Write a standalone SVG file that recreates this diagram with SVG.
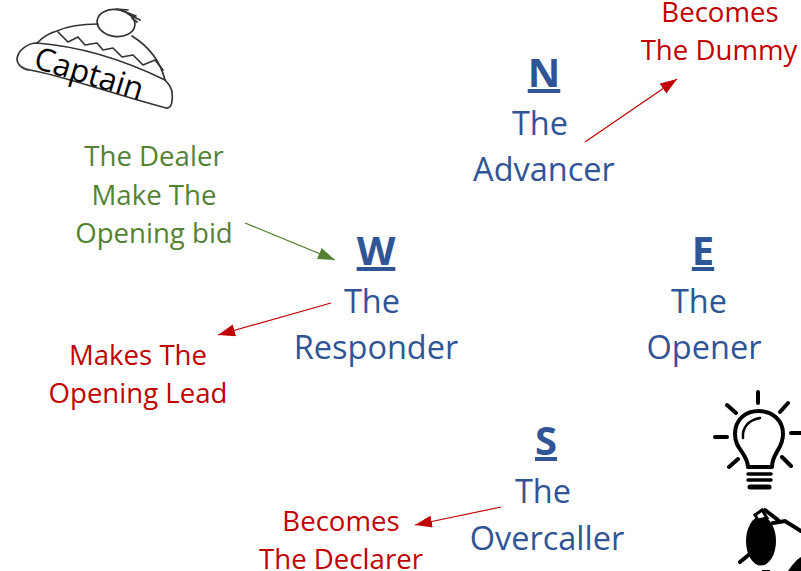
<svg xmlns="http://www.w3.org/2000/svg" width="801" height="571" viewBox="0 0 801 571">
<style>
text{font-family:"Open Sans","Noto Sans",sans-serif;text-anchor:middle}
.b{fill:#2f5597;font-size:32.5px}
.h{fill:#2f5597;font-size:40px;font-weight:700;text-decoration:underline}
.r{fill:#c00000;font-size:27.6px}
.g{fill:#548235;font-size:27.6px}
.hat{fill:none;stroke:#333;stroke-width:1.7;stroke-linejoin:round;stroke-linecap:round}
.bulb{fill:none;stroke:#000;stroke-width:4;stroke-linecap:round;stroke-linejoin:round}
</style>
<defs>
<marker id="ar" markerWidth="18" markerHeight="14" refX="17" refY="6" orient="auto" markerUnits="userSpaceOnUse"><path d="M0 0L17 6L0 12Z" fill="#c00000"/></marker>
<marker id="ag" markerWidth="18" markerHeight="14" refX="17" refY="6" orient="auto" markerUnits="userSpaceOnUse"><path d="M0 0L17 6L0 12Z" fill="#548235"/></marker>
</defs>
<g id="connectors">
<line x1="585" y1="142" x2="677" y2="79" stroke="#c00000" stroke-width="1.2" marker-end="url(#ar)"/>
<line x1="245" y1="223" x2="335" y2="260" stroke="#548235" stroke-width="1.2" marker-end="url(#ag)"/>
<line x1="331" y1="303" x2="218" y2="335" stroke="#c00000" stroke-width="1.2" marker-end="url(#ar)"/>
<line x1="501" y1="507" x2="415" y2="525" stroke="#c00000" stroke-width="1.2" marker-end="url(#ar)"/>
</g>
<g id="node-n"><text class="h" x="544" y="87">N</text><text class="b" x="540" y="135">The</text><text class="b" x="544" y="181">Advancer</text></g>
<g id="node-w"><text class="h" x="376" y="265">W</text><text class="b" x="372" y="313">The</text><text class="b" x="376" y="359">Responder</text></g>
<g id="node-e"><text class="h" x="703" y="265">E</text><text class="b" x="699" y="313">The</text><text class="b" x="704" y="359">Opener</text></g>
<g id="node-s"><text class="h" x="546" y="455">S</text><text class="b" x="543" y="503">The</text><text class="b" x="547" y="550">Overcaller</text></g>
<g id="label-dummy"><text class="r" x="720" y="22">Becomes</text><text class="r" x="719" y="60">The Dummy</text></g>
<g id="label-dealer"><text class="g" x="154" y="166">The Dealer</text><text class="g" x="154" y="205">Make The</text><text class="g" x="154" y="243">Opening bid</text></g>
<g id="label-lead"><text class="r" x="138" y="365">Makes The</text><text class="r" x="138" y="403">Opening Lead</text></g>
<g id="label-declarer"><text class="r" x="341" y="531">Becomes</text><text class="r" x="341" y="569">The Declarer</text></g>
<g id="hat">
<path class="hat" d="M37 43C43 37 49 33 57 31C68 26 84 24 98 24"/>
<path class="hat" d="M132 36C148 46 160 60 165 80"/>
<path class="hat" d="M58 32L68 42L78 37L85 45L97 43L103 50L113 48L122 57L133 55L143 65L155 60L163 70"/>
<ellipse class="hat" cx="116" cy="23" rx="19" ry="13.5" transform="rotate(8 116 23)"/>
<path class="hat" d="M116 9L128 10M120 10L136 16M128 14L140 20M132 18L137 22"/>
<path class="hat" d="M37 43C28 43 18 50 17 59C17 65 24 70 30 70C60 75 100 90 166 108C172 109 173 100 172 92C171 86 168 83 165 80C120 58 75 46 37 43Z"/>
<text x="86" y="84" transform="rotate(17 86 84)" style="fill:#000;font-size:31.5px">Captain</text>
</g>
<g id="bulb" class="bulb">
<path d="M758 392V403M727 405L736 413M788 403L780 412M715 437H727M791 433H801M729 467L738 459M782 457L791 466"/>
<path d="M748 467C747 452 735 450 735 434C735 419 746 411 759 411C772 411 783 420 783 434C783 450 772 452 772 467Z"/>
<path d="M743 438C742 428 748 420 760 418" stroke-width="2.5"/>
<path d="M748 474H771M748 480H771" stroke-width="3.5"/>
<path d="M750 487H769" stroke-width="5"/>
</g>
<g id="bird">
<ellipse cx="761" cy="541" rx="15" ry="24.5" fill="#000"/>
<path d="M740 562L751 553M765 510L778 520M773 523L785 521L801 531" fill="none" stroke="#000" stroke-width="4" stroke-linecap="round"/>
<path d="M755 515L762 510L767 518L758 520Z" fill="#fff" stroke="#000" stroke-width="3"/>
<path d="M788 571C792 565 796 560 801 557V571Z" fill="#000"/>
<path d="M762 571H770V570H762Z" fill="#000"/>
</g>
</svg>
